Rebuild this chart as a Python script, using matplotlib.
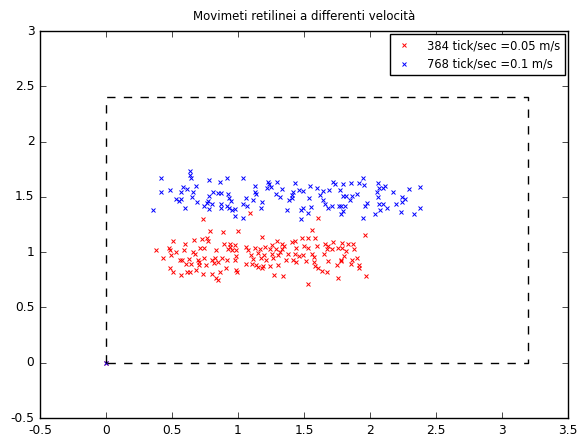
import matplotlib
matplotlib.use("Agg")
import matplotlib.pyplot as plt
from matplotlib.ticker import FormatStrFormatter

plt.style.use("classic")

# 384 tick/sec run (red)
red_x = [0.0,
         0.788, 0.886, 1.000, 0.508, 0.598, 0.667, 0.727, 0.765, 0.773, 0.894,
         0.939, 0.977, 0.379, 0.477, 0.485, 0.530, 0.591, 0.659, 0.674, 0.712,
         0.742, 0.833, 0.924, 0.955, 0.985, 0.939, 0.492, 0.432, 0.561, 0.576,
         0.629, 0.697, 0.705, 0.742, 0.803, 0.826, 0.879, 0.917, 0.977, 0.985,
         0.606, 0.644, 0.705, 0.758, 0.818, 0.848, 0.485, 0.909, 0.985, 0.508,
         0.614, 0.636, 0.682, 0.864, 0.992, 0.568, 0.735, 0.803, 0.833, 0.848,
         1.561, 1.182, 1.409, 1.432, 1.485, 1.530, 1.583, 1.720, 1.295, 1.333,
         1.348, 1.258, 1.205, 1.167, 1.061, 1.076, 1.129, 1.242, 1.288, 1.318,
         1.333, 1.439, 1.500, 1.530, 1.598, 1.659, 1.682, 1.674, 1.712, 1.758,
         1.788, 1.098, 1.152, 1.197, 1.258, 1.303, 1.379, 1.432, 1.462, 1.492,
         1.561, 1.652, 1.576, 1.114, 1.174, 1.212, 1.265, 1.364, 1.417, 1.439,
         1.515, 1.576, 1.682, 1.780, 1.061, 1.106, 1.136, 1.152, 1.189, 1.182,
         1.242, 1.303, 1.583, 1.606, 1.636, 1.750, 1.674, 1.273, 1.341, 1.758,
         1.530, 1.962, 1.788, 1.833, 1.871, 1.879, 1.818, 1.803, 1.902, 1.864,
         1.780, 1.856, 1.917, 1.917, 1.970, 0.735, 1.091, 1.606]
red_y = [0.0,
         1.195, 1.186, 1.195, 1.104, 1.077, 1.113, 1.122, 1.131, 1.104, 1.077,
         1.077, 1.068, 1.023, 1.041, 1.023, 1.005, 1.023, 1.005, 0.986, 1.041,
         1.041, 1.023, 1.032, 1.023, 1.023, 1.050, 0.977, 0.950, 0.932, 0.932,
         0.941, 0.932, 0.914, 0.950, 0.932, 0.950, 0.950, 0.932, 0.932, 0.968,
         0.896, 0.896, 0.887, 0.887, 0.905, 0.914, 0.860, 0.860, 0.842, 0.824,
         0.824, 0.824, 0.842, 0.824, 0.824, 0.796, 0.805, 0.805, 0.769, 0.751,
         1.204, 1.140, 1.095, 1.104, 1.131, 1.131, 1.131, 1.095, 1.104, 1.077,
         1.059, 1.068, 1.050, 1.032, 1.050, 1.023, 1.041, 1.032, 1.032, 1.005,
         1.032, 1.041, 1.059, 1.041, 1.059, 1.077, 1.059, 1.032, 1.032, 1.041,
         1.041, 0.977, 0.995, 0.977, 0.986, 0.977, 0.986, 0.986, 0.968, 0.977,
         0.986, 0.986, 0.959, 0.941, 0.950, 0.932, 0.950, 0.932, 0.932, 0.914,
         0.923, 0.914, 0.923, 0.932, 0.896, 0.896, 0.887, 0.869, 0.878, 0.860,
         0.878, 0.887, 0.878, 0.860, 0.833, 0.887, 0.824, 0.796, 0.787, 0.769,
         0.715, 1.158, 1.086, 1.077, 1.077, 1.032, 1.014, 0.968, 0.950, 0.932,
         0.923, 0.896, 0.887, 0.860, 0.787, 1.303, 1.357, 1.312]

# 768 tick/sec run (blue)
blue_x = [0.0,
          0.636, 0.636, 0.644, 0.417, 0.780, 0.864, 0.917, 0.682, 0.583, 0.614,
          0.485, 0.417, 0.568, 0.659, 0.811, 0.848, 0.871, 0.924, 0.652, 0.780,
          0.530, 0.568, 0.553, 0.689, 0.932, 0.947, 0.773, 0.765, 0.803, 0.742,
          0.871, 0.917, 0.598, 0.780, 0.871, 0.932, 0.955, 0.977, 0.356, 0.977,
          1.038, 1.129, 1.227, 1.235, 1.220, 1.250, 1.295, 1.333, 1.432, 1.545,
          1.720, 1.735, 1.061, 1.129, 1.136, 1.114, 1.182, 1.288, 1.318, 1.417,
          1.462, 1.492, 1.409, 1.409, 1.386, 1.538, 1.598, 1.644, 1.621, 1.689,
          1.644, 1.038, 1.068, 1.174, 1.371, 1.492, 1.477, 1.553, 1.659, 1.682,
          1.712, 1.765, 1.530, 1.038, 1.477,
          1.947, 1.795, 1.856, 1.917, 1.955, 2.061, 2.068, 2.114, 2.098, 2.379,
          2.295, 1.773, 2.174, 2.053, 1.902, 1.795, 1.818, 1.864, 1.848, 2.061,
          2.242, 2.265, 2.242, 1.977, 1.962, 2.068, 2.098, 2.129, 2.197, 2.379,
          1.811, 1.780, 1.795, 1.780, 2.038, 2.076, 2.235, 2.333, 1.947]
blue_y = [0.0,
          1.738, 1.701, 1.674, 1.674, 1.656, 1.638, 1.674, 1.602, 1.593, 1.575,
          1.566, 1.548, 1.548, 1.548, 1.548, 1.538, 1.538, 1.529, 1.502, 1.511,
          1.484, 1.484, 1.466, 1.457, 1.493, 1.466, 1.466, 1.448, 1.439, 1.421,
          1.439, 1.421, 1.403, 1.394, 1.403, 1.403, 1.385, 1.394, 1.385, 1.330,
          1.674, 1.602, 1.638, 1.620, 1.584, 1.593, 1.638, 1.575, 1.629, 1.602,
          1.638, 1.620, 1.493, 1.548, 1.529, 1.475, 1.457, 1.529, 1.502, 1.548,
          1.566, 1.557, 1.520, 1.493, 1.475, 1.493, 1.584, 1.557, 1.520, 1.566,
          1.475, 1.439, 1.421, 1.403, 1.385, 1.403, 1.385, 1.412, 1.439, 1.403,
          1.421, 1.421, 1.357, 1.312, 1.303,
          1.674, 1.620, 1.629, 1.629, 1.611, 1.629, 1.584, 1.602, 1.584, 1.593,
          1.575, 1.566, 1.548, 1.548, 1.529, 1.511, 1.511, 1.511, 1.475, 1.502,
          1.502, 1.484, 1.457, 1.448, 1.421, 1.439, 1.439, 1.403, 1.439, 1.403,
          1.421, 1.421, 1.376, 1.348, 1.348, 1.385, 1.367, 1.348, 1.312]

# bounding area (corners)
box_x = [0, 0, 3.2, 3.2, 0]
box_y = [0, 2.4, 2.4, 0, 0]

labels = ["384 tick/sec =0.05 m/s", "768 tick/sec =0.1 m/s"]

fig = plt.figure(figsize=(5.84, 4.36), dpi=100, facecolor="white")
ax = fig.add_axes([40 / 584, 1 - 418 / 436, 528 / 584, 387 / 436])

ax.plot(red_x, red_y, "rx", markersize=3, markeredgewidth=0.7, label=labels[0])
ax.plot(blue_x, blue_y, "bx", markersize=3, markeredgewidth=0.7, label=labels[1])
ax.plot(box_x, box_y, "k--", linewidth=1)

ax.set_xlim(-0.5, 3.5)
ax.set_ylim(-0.5, 3.0)
ax.xaxis.set_major_formatter(FormatStrFormatter("%g"))
ax.yaxis.set_major_formatter(FormatStrFormatter("%g"))
ax.set_title("Movimeti retilinei a differenti velocità", fontsize=8.5, pad=8)
ax.tick_params(labelsize=8.8)

ax.legend(loc="upper right", numpoints=1, fontsize=8.3, borderaxespad=0.3,
          handlelength=1.6, handletextpad=1.2, fancybox=False)

fig.savefig("out.png", dpi=100, facecolor="white")
